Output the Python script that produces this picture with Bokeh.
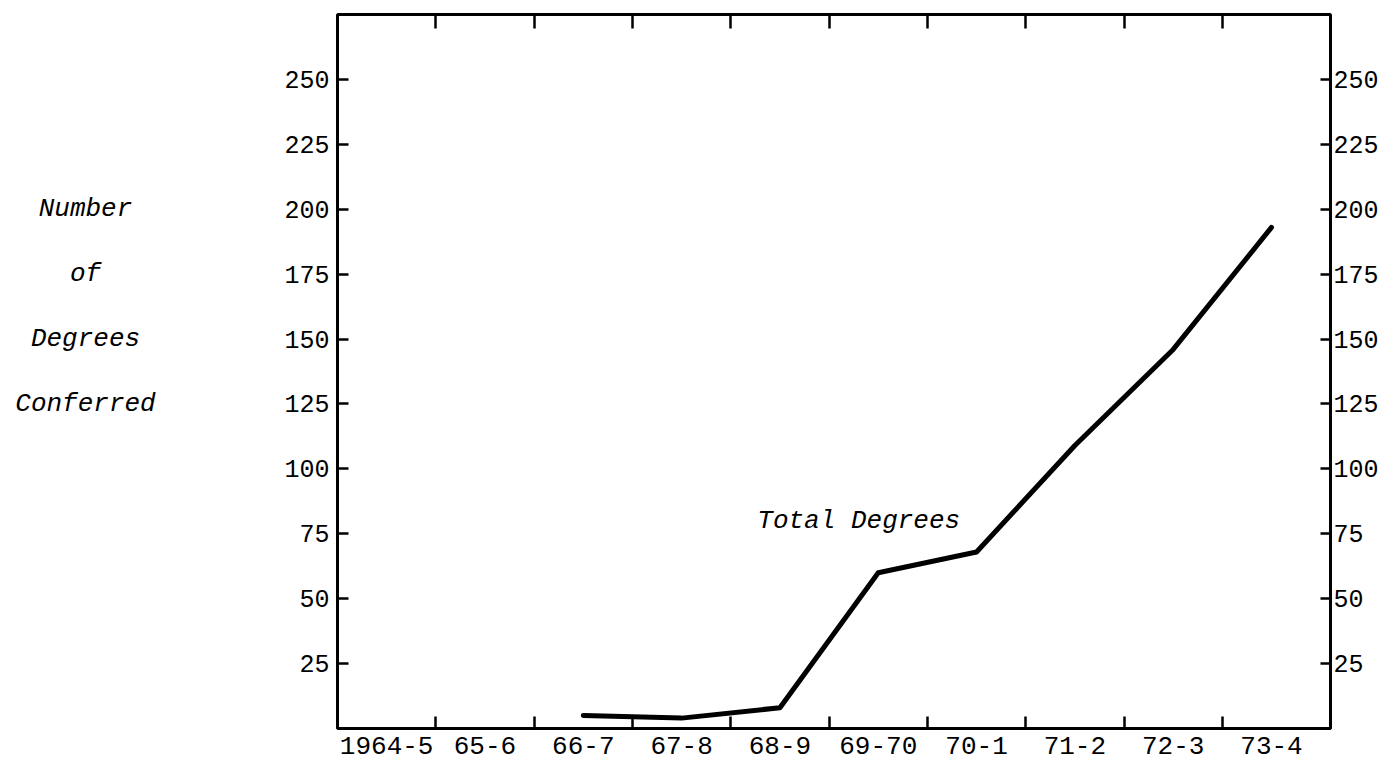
from bokeh.plotting import figure
from bokeh.layouts import row
from bokeh.models import LinearAxis, FixedTicker, Range1d, Label
from bokeh.core.properties import value
from bokeh.embed import file_html
from bokeh.resources import INLINE

# ---- data ----
years = ["1964-5", "65-6", "66-7", "67-8", "68-9", "69-70", "70-1", "71-2", "72-3", "73-4"]
plotted_years = ["66-7", "67-8", "68-9", "69-70", "70-1", "71-2", "72-3", "73-4"]
total_degrees = [5, 4, 8, 60, 68, 109, 146, 193]
y_ticks = [25, 50, 75, 100, 125, 150, 175, 200, 225, 250]
side_words = ["Number", "of", "Degrees", "Conferred"]
side_word_rows = [200, 175, 150, 125]
series_name = "Total Degrees"

# category centres / boundaries on a numeric axis
centres = [i + 0.5 for i in range(len(years))]
boundaries = list(range(1, len(years)))
xpos = [years.index(y) + 0.5 for y in plotted_years]

TICK_FONT = "Liberation Mono"
ITAL_FONT = "Liberation Mono"

TOTAL_W, TOTAL_H = 1398, 769
SIDE_W = 200
TOP_B, BOT_B = 14, 41

y_range = Range1d(0, 275)

# ---- side panel with the y-axis title words ----
side = figure(width=SIDE_W, height=TOTAL_H, x_range=Range1d(0, SIDE_W), y_range=y_range,
              output_backend="svg", toolbar_location=None,
              x_axis_location=None, y_axis_location=None,
              min_border_left=0, min_border_right=0,
              min_border_top=TOP_B, min_border_bottom=BOT_B)
side.xgrid.visible = False
side.ygrid.visible = False
side.outline_line_color = None
side.text(x=[85] * len(side_words), y=side_word_rows, text=side_words,
          text_font=value(ITAL_FONT), text_font_style="italic",
          text_font_size="26px", text_align="center", text_baseline="middle",
          text_color="black")

# ---- main chart ----
p = figure(width=TOTAL_W - SIDE_W, height=TOTAL_H,
           x_range=Range1d(0, 10.1), y_range=y_range,
           output_backend="svg", toolbar_location=None,
           x_axis_location=None, y_axis_location=None,
           min_border_left=337 - SIDE_W, min_border_right=68,
           min_border_top=TOP_B, min_border_bottom=BOT_B)
p.xgrid.visible = False
p.ygrid.visible = False
p.outline_line_color = "black"
p.outline_line_width = 3
p.background_fill_color = "white"
p.border_fill_color = "white"

def x_axis(show_labels, tick_len):
    ax = LinearAxis(ticker=FixedTicker(ticks=centres, minor_ticks=boundaries))
    ax.axis_line_color = None
    ax.major_tick_in = 0
    ax.major_tick_out = 0
    ax.minor_tick_in = tick_len
    ax.minor_tick_out = 0
    ax.minor_tick_line_width = 2.5
    ax.minor_tick_line_color = "black"
    if show_labels:
        ax.major_label_overrides = {c: y for c, y in zip(centres, years)}
        ax.major_label_text_font = TICK_FONT
        ax.major_label_text_font_size = "26px"
        ax.major_label_text_color = "black"
        ax.major_label_standoff = 8
    else:
        ax.major_label_text_font_size = "0px"
        ax.major_label_text_color = None
        ax.major_label_standoff = 0
    return ax

def y_axis(standoff, tick_len):
    ax = LinearAxis(ticker=FixedTicker(ticks=y_ticks))
    ax.axis_line_color = None
    ax.major_tick_in = tick_len
    ax.major_tick_out = 0
    ax.major_tick_line_width = 2.5
    ax.major_tick_line_color = "black"
    ax.minor_tick_line_color = None
    ax.major_label_text_font = TICK_FONT
    ax.major_label_text_font_size = "25px"
    ax.major_label_text_color = "black"
    ax.major_label_standoff = standoff
    return ax

p.add_layout(x_axis(True, 12), "below")
p.add_layout(x_axis(False, 14), "above")
p.add_layout(y_axis(8, 11), "left")
p.add_layout(y_axis(3, 10), "right")

p.line(xpos, total_degrees, line_color="black", line_width=5,
       line_cap="round", line_join="round")

p.add_layout(Label(x=4.27, y=80, text=series_name, text_align="left",
                   text_baseline="alphabetic", text_font=ITAL_FONT,
                   text_font_style="italic", text_font_size="26px",
                   text_color="black"))

layout = row(side, p)
open("out.html", "w").write(file_html(layout, INLINE))
